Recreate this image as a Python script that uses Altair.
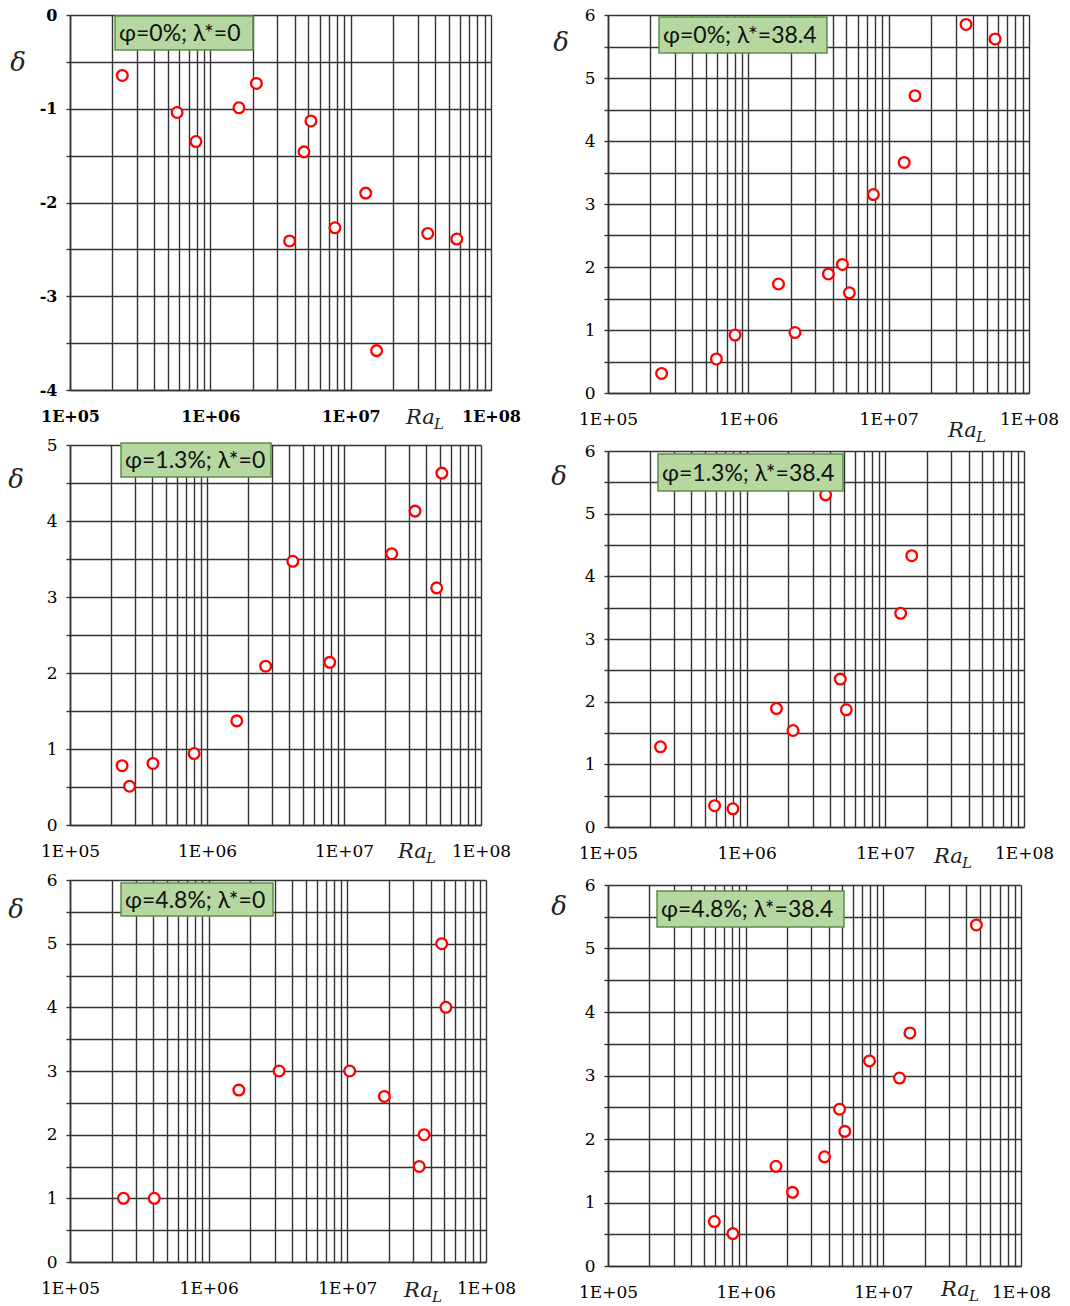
import altair as alt
import pandas as pd

# ---------------- data ----------------
p1_ra = [2.36e5, 5.8e5, 7.9e5, 1.6e6, 2.13e6, 3.67e6, 4.65e6, 5.21e6, 7.73e6, 1.28e7, 1.53e7, 3.54e7, 5.7e7]
p1_delta = [-0.645, -1.04, -1.35, -0.99, -0.73, -2.41, -1.46, -1.13, -2.27, -1.90, -3.58, -2.33, -2.39]

p2_ra = [2.41e5, 5.92e5, 8.04e5, 1.64e6, 2.15e6, 3.72e6, 4.68e6, 5.25e6, 7.78e6, 1.29e7, 1.54e7, 3.56e7, 5.73e7]
p2_delta = [0.31, 0.54, 0.92, 1.73, 0.96, 1.89, 2.04, 1.59, 3.15, 3.66, 4.72, 5.85, 5.62]

p3_ra = [2.40e5, 2.72e5, 4.03e5, 8.05e5, 1.65e6, 2.68e6, 4.23e6, 7.87e6, 2.23e7, 3.30e7, 4.75e7, 5.18e7]
p3_delta = [0.78, 0.51, 0.81, 0.94, 1.37, 2.09, 3.47, 2.14, 3.57, 4.13, 3.12, 4.63]

p4_ra = [2.39e5, 5.87e5, 7.96e5, 1.64e6, 2.16e6, 3.71e6, 4.73e6, 5.23e6, 1.29e7, 1.55e7]
p4_delta = [1.28, 0.34, 0.29, 1.89, 1.54, 5.30, 2.36, 1.87, 3.41, 4.33]

p5_ra = [2.43e5, 4.05e5, 1.65e6, 3.22e6, 1.04e7, 1.85e7, 3.30e7, 3.58e7, 4.79e7, 5.14e7]
p5_delta = [1.0, 1.0, 2.7, 3.0, 3.0, 2.6, 1.5, 2.0, 5.0, 4.0]

p6_ra = [5.92e5, 8.07e5, 1.66e6, 2.19e6, 3.74e6, 4.81e6, 5.25e6, 7.93e6, 1.31e7, 1.56e7, 4.74e7]
p6_delta = [0.70, 0.51, 1.57, 1.16, 1.72, 2.47, 2.12, 3.23, 2.96, 3.67, 5.37]

panel_labels = ["φ=0%; λ*=0", "φ=0%; λ*=38.4", "φ=1.3%; λ*=0",
                "φ=1.3%; λ*=38.4", "φ=4.8%; λ*=0", "φ=4.8%; λ*=38.4"]
y_ranges = [(-4, 0), (0, 6), (0, 5), (0, 6), (0, 6), (0, 6)]

x_tick_values = [100000, 1000000, 10000000, 100000000]
x_tick_labels = ["1E+05", "1E+06", "1E+07", "1E+08"]
x_grid_values = [m * 10 ** k for k in (5, 6, 7) for m in range(1, 10)] + [10 ** 8]

# ---------------- layout / style (not data) ----------------
layout = [
    dict(w=421, h=375, box=(45, 183, 1, 35), dl=(-52, 48), ra=(336, 34), bold=True),
    dict(w=421, h=378, box=(51, 219, 2, 38), dl=(-47, 28), ra=(340, 44), bold=False),
    dict(w=411, h=380, box=(51, 201, -2, 32), dl=(-54, 35), ra=(328, 33), bold=False),
    dict(w=416, h=376, box=(50, 235, 3, 40), dl=(-49, 26), ra=(326, 36), bold=False),
    dict(w=416, h=382, box=(51, 203, 3, 36), dl=(-54, 30), ra=(334, 35), bold=False),
    dict(w=413, h=381, box=(49, 236, 6, 42), dl=(-49, 22), ra=(333, 30), bold=False),
]

GRID = "#333333"
LABEL_FONT = "DejaVu Serif"

x_label_expr = " : ".join(
    f"datum.value == {v} ? '{t}'" for v, t in zip(x_tick_values, x_tick_labels)
) + " : ''"


def make_panel(ra, delta, label, yr, cfg):
    df = pd.DataFrame({"Ra": ra, "delta": delta})
    ymin, ymax = yr
    yvals = [ymin + 0.5 * i for i in range(int((ymax - ymin) * 2) + 1)]
    weight = "bold" if cfg["bold"] else "normal"
    size = 16 if cfg["bold"] else 17

    x_enc = alt.X(
        "Ra:Q",
        scale=alt.Scale(type="log", domain=[100000, 100000000], nice=False),
        axis=alt.Axis(
            values=x_grid_values, labelExpr=x_label_expr, title=None,
            grid=True, gridColor=GRID, gridWidth=1.4, gridOpacity=1,
            ticks=False, domain=True, domainColor=GRID, domainWidth=1.6,
            labelFlush=False, labelOverlap=False, labelPadding=18,
            labelFont=LABEL_FONT, labelFontSize=size, labelFontWeight=weight,
            labelColor="black", labelBaseline="top",
        ),
    )
    y_enc = alt.Y(
        "delta:Q",
        scale=alt.Scale(domain=[ymin, ymax], nice=False, zero=False),
        axis=alt.Axis(
            values=yvals,
            labelExpr="datum.value % 1 == 0 ? toString(datum.value) : ''",
            title=None, grid=True, gridColor=GRID, gridWidth=1.4, gridOpacity=1,
            ticks=True, tickSize=4, tickColor=GRID, tickWidth=1.4,
            domain=True, domainColor=GRID, domainWidth=1.6,
            labelFlush=False, labelOverlap=False, labelPadding=9,
            labelFont=LABEL_FONT, labelFontSize=size, labelFontWeight=weight,
            labelColor="black",
        ),
    )

    points = alt.Chart(df).mark_circle(
        fill="white", fillOpacity=1, stroke="#ff0000", strokeWidth=2.3,
        size=115, opacity=1,
    ).encode(x=x_enc, y=y_enc)

    lab = pd.DataFrame({"label": [label]})
    bx1, bx2, by1, by2 = cfg["box"]
    box = alt.Chart(lab).mark_rect(
        fill="#b6d7a0", stroke="#5e8f45", strokeWidth=1.5
    ).encode(x=alt.value(bx1), x2=alt.value(bx2), y=alt.value(by1), y2=alt.value(by2))
    box_text = alt.Chart(lab).mark_text(
        align="left", baseline="middle", font="Lato", fontSize=23, color="#111111"
    ).encode(x=alt.value(bx1 + 4), y=alt.value((by1 + by2) / 2 + 1), text="label:N")

    sym = pd.DataFrame({"d": ["δ"], "ra": ["Ra"], "sub": ["L"]})
    dx, dy = cfg["dl"]
    delta_txt = alt.Chart(sym).mark_text(
        align="center", baseline="middle", font="DejaVu Serif", fontStyle="italic",
        fontSize=26, color="#222222"
    ).encode(x=alt.value(dx), y=alt.value(dy), text="d:N")

    rx, rb = cfg["ra"]
    ra_txt = alt.Chart(sym).mark_text(
        align="left", baseline="alphabetic", font="DejaVu Serif", fontStyle="italic",
        fontSize=21, color="#222222"
    ).encode(x=alt.value(rx), y=alt.value(cfg["h"] + rb), text="ra:N")
    sub_txt = alt.Chart(sym).mark_text(
        align="left", baseline="alphabetic", font="DejaVu Serif", fontStyle="italic",
        fontSize=15, color="#222222"
    ).encode(x=alt.value(rx + 28), y=alt.value(cfg["h"] + rb + 5), text="sub:N")

    return alt.layer(points, box, box_text, delta_txt, ra_txt, sub_txt).properties(
        width=cfg["w"], height=cfg["h"]
    )


ras = [p1_ra, p2_ra, p3_ra, p4_ra, p5_ra, p6_ra]
deltas = [p1_delta, p2_delta, p3_delta, p4_delta, p5_delta, p6_delta]
panels = [make_panel(ras[i], deltas[i], panel_labels[i], y_ranges[i], layout[i]) for i in range(6)]

left = alt.vconcat(panels[0], panels[2], panels[4], spacing=55, bounds="flush")
right = alt.vconcat(panels[1], panels[3], panels[5], spacing=58, bounds="flush")

chart = alt.hconcat(left, right, spacing=30).properties(
    padding={"left": 8, "top": 6, "right": 5, "bottom": 5}
).configure_view(stroke=None).resolve_scale(x="independent", y="independent")

chart.save("out.html", embed_options={"renderer": "svg", "actions": False})
